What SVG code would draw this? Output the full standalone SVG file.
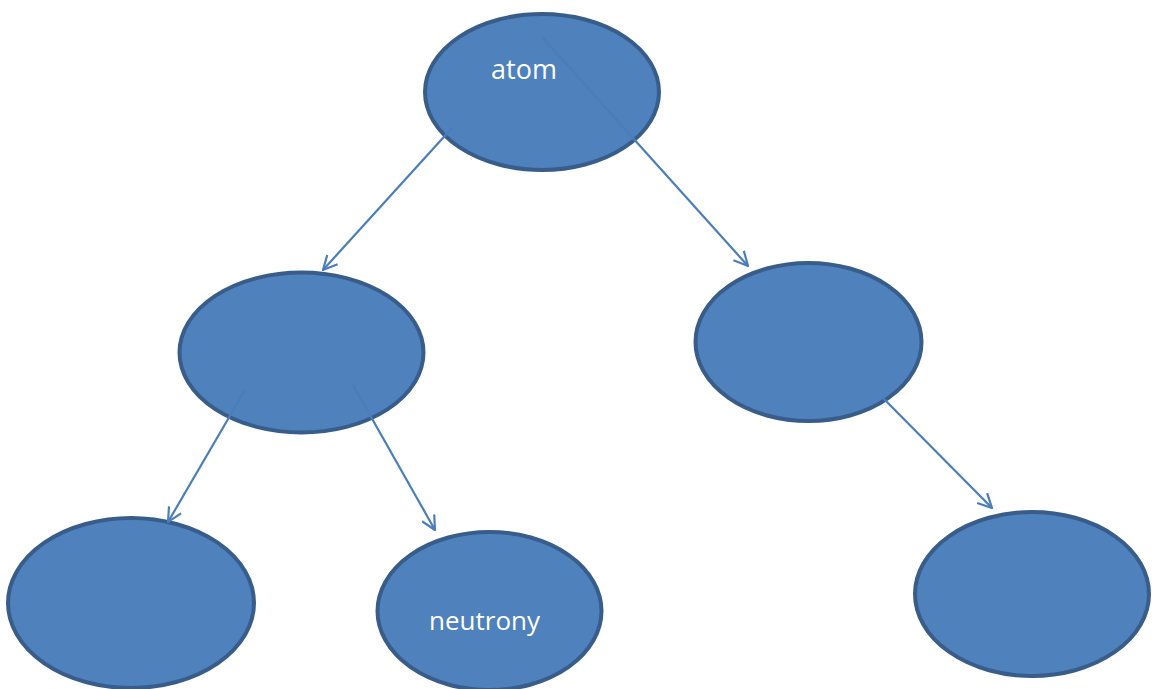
<svg xmlns="http://www.w3.org/2000/svg" width="1154" height="689" viewBox="0 0 1154 689">
<style>
.node{fill:#4F81BD;stroke:#385D8A;stroke-width:4}
.edge{stroke:#4A7EBB;stroke-width:2.2;fill:none}
.lbl{fill:#ffffff;font-family:"Open Sans","Liberation Sans",sans-serif;text-anchor:middle}
</style>
<defs>
<marker id="arr" viewBox="0 0 16 16" refX="15" refY="8" markerWidth="16" markerHeight="16" markerUnits="userSpaceOnUse" orient="auto">
<path d="M1,1 L15,8 L1,15" fill="none" stroke="#4A7EBB" stroke-width="2.2"/>
</marker>
</defs>
<rect width="1154" height="689" fill="#ffffff"/>
<g id="n-atom"><ellipse class="node" cx="542" cy="92" rx="117" ry="78"/><text class="lbl" x="524" y="79" font-size="27">atom</text></g>
<g id="n-midleft"><ellipse class="node" cx="301.5" cy="352.5" rx="122" ry="80"/></g>
<g id="n-midright"><ellipse class="node" cx="808.5" cy="342" rx="113" ry="79"/></g>
<g id="n-botleft"><ellipse class="node" cx="131" cy="603" rx="123" ry="85"/></g>
<g id="n-neutrony"><ellipse class="node" cx="489.5" cy="611" rx="112" ry="79"/><text class="lbl" x="484.5" y="630" font-size="26">neutrony</text></g>
<g id="n-botright"><ellipse class="node" cx="1032" cy="594" rx="117" ry="82"/></g>
<g id="edges">
<line class="edge" x1="543" y1="38" x2="748" y2="266" marker-end="url(#arr)"/>
<line class="edge" x1="452" y1="128" x2="323" y2="270" marker-end="url(#arr)"/>
<line class="edge" x1="245" y1="390" x2="168" y2="522" marker-end="url(#arr)"/>
<line class="edge" x1="353" y1="385" x2="435" y2="530" marker-end="url(#arr)"/>
<line class="edge" x1="882" y1="397" x2="992" y2="508" marker-end="url(#arr)"/>
</g>
</svg>
